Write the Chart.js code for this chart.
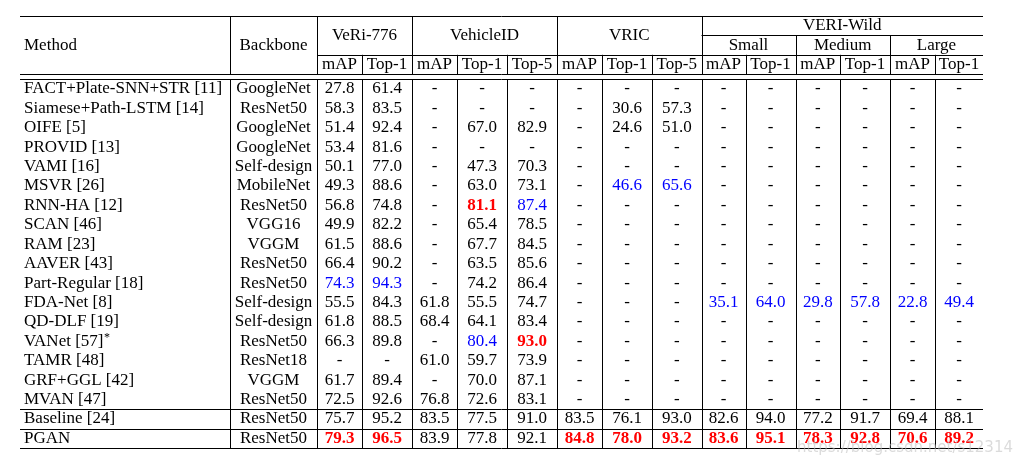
<!DOCTYPE html>
<html><head><meta charset="utf-8">
<script src="https://cdn.jsdelivr.net/npm/chart.js@4.4.0/dist/chart.umd.min.js"></script>
<style>html,body{margin:0;padding:0;background:#fff}#wrap{width:1023px;height:466px;position:relative}</style>
</head><body><div id="wrap"><canvas id="c"></canvas></div>
<script>
// ---------- DATA ----------
const methods = ['FACT+Plate-SNN+STR [11]','Siamese+Path-LSTM [14]','OIFE [5]','PROVID [13]','VAMI [16]','MSVR [26]','RNN-HA [12]','SCAN [46]','RAM [23]','AAVER [43]','Part-Regular [18]','FDA-Net [8]','QD-DLF [19]','VANet [57]*','TAMR [48]','GRF+GGL [42]','MVAN [47]','Baseline [24]','PGAN'];
const backbones = ['GoogleNet','ResNet50','GoogleNet','GoogleNet','Self-design','MobileNet','ResNet50','VGG16','VGGM','ResNet50','ResNet50','Self-design','Self-design','ResNet50','ResNet18','VGGM','ResNet50','ResNet50','ResNet50'];
const veriMAP   = [27.8,58.3,51.4,53.4,50.1,49.3,56.8,49.9,61.5,66.4,74.3,55.5,61.8,66.3,null,61.7,72.5,75.7,79.3];
const veriTop1  = [61.4,83.5,92.4,81.6,77.0,88.6,74.8,82.2,88.6,90.2,94.3,84.3,88.5,89.8,null,89.4,92.6,95.2,96.5];
const vidMAP    = [null,null,null,null,null,null,null,null,null,null,null,61.8,68.4,null,61.0,null,76.8,83.5,83.9];
const vidTop1   = [null,null,67.0,null,47.3,63.0,81.1,65.4,67.7,63.5,74.2,55.5,64.1,80.4,59.7,70.0,72.6,77.5,77.8];
const vidTop5   = [null,null,82.9,null,70.3,73.1,87.4,78.5,84.5,85.6,86.4,74.7,83.4,93.0,73.9,87.1,83.1,91.0,92.1];
const vricMAP   = [null,null,null,null,null,null,null,null,null,null,null,null,null,null,null,null,null,83.5,84.8];
const vricTop1  = [null,30.6,24.6,null,null,46.6,null,null,null,null,null,null,null,null,null,null,null,76.1,78.0];
const vricTop5  = [null,57.3,51.0,null,null,65.6,null,null,null,null,null,null,null,null,null,null,null,93.0,93.2];
const smallMAP  = [null,null,null,null,null,null,null,null,null,null,null,35.1,null,null,null,null,null,82.6,83.6];
const smallTop1 = [null,null,null,null,null,null,null,null,null,null,null,64.0,null,null,null,null,null,94.0,95.1];
const medMAP    = [null,null,null,null,null,null,null,null,null,null,null,29.8,null,null,null,null,null,77.2,78.3];
const medTop1   = [null,null,null,null,null,null,null,null,null,null,null,57.8,null,null,null,null,null,91.7,92.8];
const largeMAP  = [null,null,null,null,null,null,null,null,null,null,null,22.8,null,null,null,null,null,69.4,70.6];
const largeTop1 = [null,null,null,null,null,null,null,null,null,null,null,49.4,null,null,null,null,null,88.1,89.2];
const valueSeries = [veriMAP,veriTop1,vidMAP,vidTop1,vidTop5,vricMAP,vricTop1,vricTop5,smallMAP,smallTop1,medMAP,medTop1,largeMAP,largeTop1];
const metricLabels = ['mAP','Top-1','mAP','Top-1','Top-5','mAP','Top-1','Top-5','mAP','Top-1','mAP','Top-1','mAP','Top-1'];
const datasetGroups = [['VeRi-776',0,2],['VehicleID',2,5],['VRIC',5,8]];
const wildGroups = [['Small',8,10],['Medium',10,12],['Large',12,14]];
// best (red bold) and second best (blue) cells: [row, value column]
const bestCells = [[6,3],[13,4],[18,0],[18,1],[18,5],[18,6],[18,7],[18,8],[18,9],[18,10],[18,11],[18,12],[18,13]];
const secondCells = [[5,6],[5,7],[6,4],[10,0],[10,1],[11,8],[11,9],[11,10],[11,11],[11,12],[11,13],[13,3]];

// ---------- LAYOUT ----------
const colWidths = [210,87,45,50,45,50,50,45,50,49.5,44,50,44.5,50,45,48];
const colEdges = [0]; colWidths.forEach(w=>colEdges.push(colEdges[colEdges.length-1]+w));
const colCenter = i => (colEdges[i]+colEdges[i+1])/2;
const HEAD = 3, GAP = 0.26, DATA0 = HEAD+GAP;
const nRows = methods.length;
const yMax = DATA0 + nRows;
const rowCenter = k => DATA0 + k + 0.5;
const FAM = "'Liberation Serif', 'Times New Roman', serif";
const FONT = "17px " + FAM;
const BOLD = "bold 17px " + FAM;
const SUP = "12px " + FAM;

const isIn = (arr,r,c)=>arr.some(p=>p[0]===r&&p[1]===c);

const datasets = [];
datasets.push({label:'Method', kind:'text', align:'left', texts:methods,
  data: methods.map((m,k)=>({x: colEdges[0], y: rowCenter(k)}))});
datasets.push({label:'Backbone', kind:'text', align:'center', texts:backbones,
  data: backbones.map((m,k)=>({x: colCenter(1), y: rowCenter(k)}))});
valueSeries.forEach((s,c)=>{
  datasets.push({label:metricLabels[c], kind:'value', col:c, values:s,
    data: s.map((v,k)=>({x: colCenter(c+2), y: rowCenter(k)}))});
});
datasets.forEach(d=>{d.pointRadius=0;d.pointHoverRadius=0;d.showLine=false;});

const tablePlugin = {
  id:'table',
  afterDatasetsDraw(chart){
    const ctx = chart.ctx, xs = chart.scales.x, ys = chart.scales.y;
    const X = v=>xs.getPixelForValue(v), Y = v=>ys.getPixelForValue(v);
    const snap = p=>Math.round(p)+0.5;
    ctx.save();
    ctx.strokeStyle='#000'; ctx.lineWidth=1;
    const hline=(y,x0,x1)=>{ctx.beginPath();ctx.moveTo(X(x0),snap(Y(y)));ctx.lineTo(X(x1),snap(Y(y)));ctx.stroke();};
    const vline=(x,y0,y1)=>{ctx.beginPath();ctx.moveTo(snap(X(x)),Y(y0));ctx.lineTo(snap(X(x)),Y(y1));ctx.stroke();};
    const E = colEdges, L = E[E.length-1];
    hline(0,0,L); hline(1,E[10],L); hline(2,E[2],L); hline(HEAD,0,L); hline(DATA0,0,L);
    hline(DATA0+nRows-2,0,L); hline(DATA0+nRows-1,0,L); hline(yMax,0,L);
    [1,2,4,7,10].forEach(i=>vline(E[i],0,HEAD));
    [12,14].forEach(i=>vline(E[i],1,HEAD));
    [3,5,6,8,9,11,13,15].forEach(i=>vline(E[i],2,HEAD));
    for(let i=1;i<E.length-1;i++) vline(E[i],DATA0,yMax);

    ctx.fillStyle='#000'; ctx.textBaseline='middle'; ctx.font=FONT; ctx.textAlign='center';
    const PAD = 4;
    ctx.textAlign='left'; ctx.fillText('Method', X(0)+PAD, Y(1.5));
    ctx.textAlign='center'; ctx.fillText('Backbone', X(colCenter(1)), Y(1.5));
    datasetGroups.forEach(g=>ctx.fillText(g[0], X((E[g[1]+2]+E[g[2]+2])/2), Y(1.0)));
    ctx.fillText('VERI-Wild', X((E[10]+E[16])/2), Y(0.5));
    wildGroups.forEach(g=>ctx.fillText(g[0], X((E[g[1]+2]+E[g[2]+2])/2), Y(1.5)));
    metricLabels.forEach((m,c)=>ctx.fillText(m, X(colCenter(c+2)), Y(2.5)));

    chart.data.datasets.forEach((ds,di)=>{
      const meta = chart.getDatasetMeta(di);
      meta.data.forEach((pt,k)=>{
        let txt, color='#000', font=FONT, x=pt.x;
        if(ds.kind==='text'){
          txt=ds.texts[k];
          if(ds.align==='left'){
            ctx.textAlign='left'; x=pt.x+PAD;
            if(txt.endsWith('*')){
              const base=txt.slice(0,-1);
              ctx.fillStyle=color; ctx.font=FONT; ctx.fillText(base,x,pt.y);
              const w=ctx.measureText(base).width;
              ctx.font=SUP; ctx.fillText('*',x+w+0.5,pt.y-3);
              return;
            }
          } else ctx.textAlign='center';
        } else {
          ctx.textAlign='center';
          const v=ds.values[k];
          txt = v===null?'-':v.toFixed(1);
          if(isIn(bestCells,k,ds.col)){color='#ff0000';font=BOLD;}
          else if(isIn(secondCells,k,ds.col)){color='#0000ff';}
        }
        ctx.fillStyle=color; ctx.font=font;
        ctx.fillText(txt, x, pt.y);
      });
    });
    // watermark
    ctx.font="15px 'DejaVu Sans', sans-serif"; ctx.textAlign='right'; ctx.fillStyle='rgba(190,190,190,0.55)';
    ctx.fillText('https://blog.csdn.net/s12314', 1013, 448);
    ctx.restore();
  }
};

new Chart(document.getElementById('c'), {
  type:'scatter',
  data:{datasets},
  options:{
    responsive:true, maintainAspectRatio:false, animation:false,
    layout:{padding:{left:20,right:40,top:16,bottom:18}},
    plugins:{legend:{display:false},tooltip:{enabled:false}},
    events:[],
    scales:{
      x:{type:'linear',min:0,max:colEdges[colEdges.length-1],display:false},
      y:{type:'linear',min:0,max:yMax,reverse:true,display:false}
    }
  },
  plugins:[tablePlugin]
});
</script></body></html>
